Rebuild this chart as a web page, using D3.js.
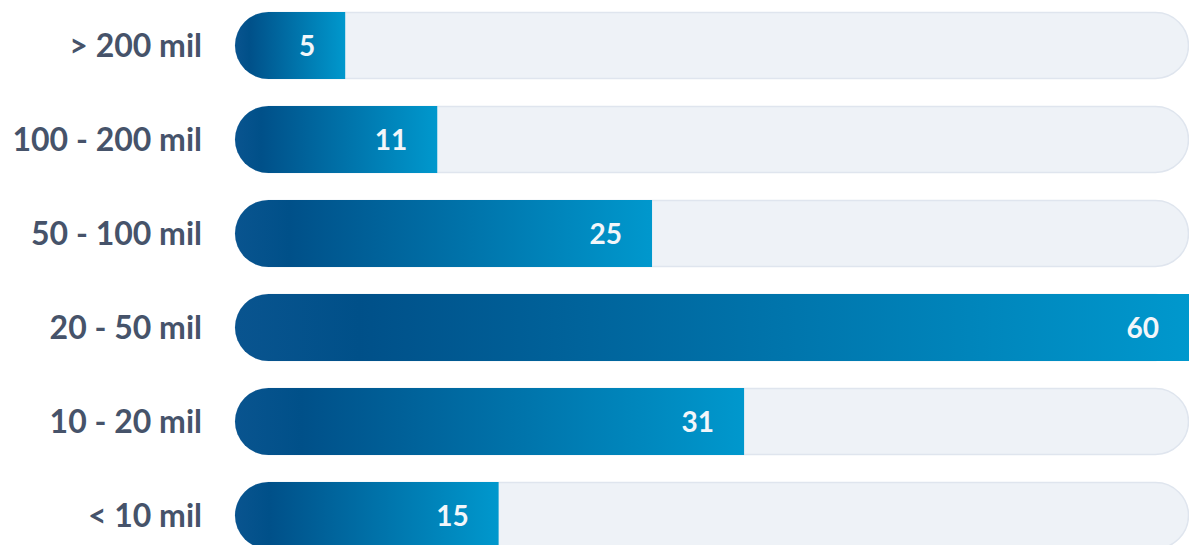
<!DOCTYPE html>
<html>
<head>
<meta charset="utf-8">
<script src="https://cdn.jsdelivr.net/npm/d3@7"></script>
<style>
  body { margin: 0; background: #fff; }
  text { font-family: Lato, "Open Sans", sans-serif; font-weight: 700; }
</style>
</head>
<body>
<div id="chart"></div>
<script>
// data
var categories = ["> 200 mil", "100 - 200 mil", "50 - 100 mil", "20 - 50 mil", "10 - 20 mil", "< 10 mil"];
var values = [5, 11, 25, 60, 31, 15];
var maxValue = 60;

var W = 1189, H = 545;
var left = 235, right = 1189;

var svg = d3.select("#chart")
  .append("svg")
  .attr("width", W)
  .attr("height", H);

var y = d3.scaleBand()
  .domain(categories)
  .range([12, 549])
  .paddingInner(27 / 94)
  .paddingOuter(0);

var bh = y.bandwidth(), r = bh / 2;

// zero sits at the centre of the rounded cap
var x = d3.scaleLinear()
  .domain([0, maxValue])
  .range([left + r, right]);

// gradient per bar (objectBoundingBox so it stretches with the bar)
var defs = svg.append("defs");
var grad = defs.append("linearGradient")
  .attr("id", "barGrad")
  .attr("x1", "0%").attr("x2", "100%")
  .attr("y1", "0%").attr("y2", "0%");
grad.append("stop").attr("offset", "0%").attr("stop-color", "#09548f");
grad.append("stop").attr("offset", "13%").attr("stop-color", "#005089");
grad.append("stop").attr("offset", "100%").attr("stop-color", "#0098cd");

var rows = svg.selectAll("g.row")
  .data(categories)
  .enter()
  .append("g")
  .attr("class", "row")
  .attr("transform", function(d) { return "translate(0," + y(d) + ")"; });

// background track
rows.append("rect")
  .attr("x", left + 0.5)
  .attr("y", 0.5)
  .attr("width", right - left - 1)
  .attr("height", bh - 1)
  .attr("rx", r - 0.5)
  .style("fill", "#eef2f7")
  .style("stroke", "#dfe5ee")
  .style("stroke-width", 1.5);

// value bar: rounded on the left, square on the right
rows.append("path")
  .attr("d", function(d, i) {
    var x0 = left + r, x1 = x(values[i]);
    return "M" + x0 + ",0 L" + x1 + ",0 L" + x1 + "," + bh +
      " L" + x0 + "," + bh +
      " A" + r + "," + r + " 0 0 1 " + x0 + ",0 Z";
  })
  .style("fill", "url(#barGrad)");

// value labels
rows.append("text")
  .attr("x", function(d, i) { return x(values[i]) - 30; })
  .attr("y", bh / 2)
  .attr("dy", "0.36em")
  .style("text-anchor", "end")
  .style("font-size", "28px")
  .style("fill", "#f2f6fa")
  .text(function(d, i) { return values[i]; });

// category labels
rows.append("text")
  .attr("x", 202)
  .attr("y", bh / 2)
  .attr("dy", "0.36em")
  .style("text-anchor", "end")
  .style("font-size", "32px")
  .style("fill", "#46536a")
  .text(function(d) { return d; });
</script>
</body>
</html>
